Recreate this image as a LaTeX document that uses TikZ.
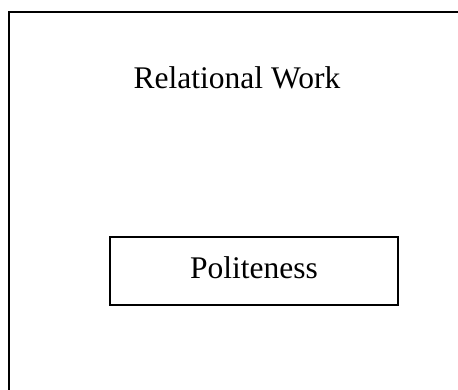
\documentclass[tikz,border=0pt]{standalone}
\usepackage{fontspec}
\setmainfont{Liberation Serif}
\begin{document}
\begin{tikzpicture}[x=1pt,y=-1pt,
  lbl/.style={inner sep=0pt,anchor=base,font=\fontsize{31.5}{36}\selectfont},
  outerframe/.style={draw=black,line width=1.9pt},
  innerbox/.style={draw=black,line width=1.6pt,rectangle,inner sep=0pt,minimum width=288pt,minimum height=68pt}]
\useasboundingbox (0,0) rectangle (458,389);
\clip (0,0) rectangle (458,389);
\fill[white] (0,0) rectangle (458,389);
\draw[outerframe] (9,12) rectangle (480,420);
\node[lbl] (rw) at (237,88) {Relational Work};
\node[innerbox] (box) at (254,271) {};
\node[lbl] (pol) at (254,278) {Politeness};
\end{tikzpicture}
\end{document}
